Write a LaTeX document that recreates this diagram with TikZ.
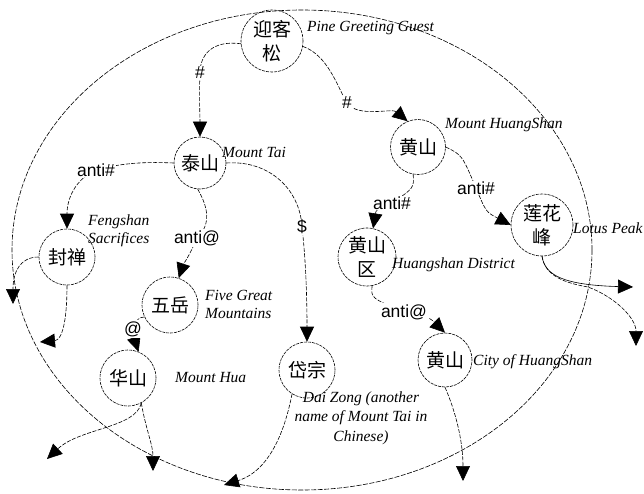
\documentclass[tikz,border=0pt]{standalone}
\usepackage{fontspec}
\setmainfont{Liberation Serif}
\setsansfont{Liberation Sans}
\newfontfamily\cjk{Noto Sans CJK SC}
\usetikzlibrary{arrows.meta}

\begin{document}
\begin{tikzpicture}[x=1pt,y=-1pt,
  mt/.style={circle,draw,line width=0.6pt,dash pattern=on 3pt off 1pt,inner sep=0pt,
    minimum size=#1,align=center,font=\cjk\fontsize{19}{24}\selectfont},
  en/.style={anchor=west,align=left,inner sep=0pt,font=\itshape\fontsize{15.5}{18}\selectfont},
  lab/.style={fill=white,inner sep=1pt,font=\sffamily\fontsize{17.5}{20}\selectfont},
  link/.style={draw,line width=0.6pt,dash pattern=on 4pt off 1.5pt,-{Triangle[length=15pt,width=14pt]}}]
  \useasboundingbox (0,0) rectangle (644,494);
  % outer ring
  \draw[line width=0.6pt,dash pattern=on 5pt off 1.5pt] (302,250) ellipse [x radius=290,y radius=240];

  % mountains
  \node[mt=62] (pine) at (272,41) {迎客\\松};
  \node[mt=52] (tai) at (200,163) {泰山};
  \node[mt=55] (huang) at (418,147) {黄山};
  \node[mt=62] (lotus) at (542,225) {莲花\\峰};
  \node[mt=56] (feng) at (67,257) {封禅};
  \node[mt=56] (wuyue) at (170,305) {五岳};
  \node[mt=56] (hua) at (128,378) {华山};
  \node[mt=56] (dai) at (307,370) {岱宗};
  \node[mt=58] (dist) at (367,257) {黄山\\区};
  \node[mt=54] (city) at (445,360) {黄山};

  % english names
  \node[en] (pineN) at (307,28) {Pine Greeting Guest};
  \node[en] (taiN) at (222,152) {Mount Tai};
  \node[en] (huangN) at (445,125) {Mount HuangShan};
  \node[en] (lotusN) at (573,228) {Lotus Peak};
  \node[en] (fengN) at (88,231) {Fengshan\\Sacrifices};
  \node[en] (wuyueN) at (205,304) {Five Great\\Mountains};
  \node[en] (huaN) at (175,378) {Mount Hua};
  \node[en] (distN) at (392,265) {Huangshan District};
  \node[en] (cityN) at (473,362) {City of HuangShan};
  \node[en,anchor=center,align=center,font=\itshape\fontsize{15.5}{19.5}\selectfont] (daiN) at (361,418) {Dai Zong (another\\name of Mount Tai in\\Chinese)};

  % loose ends
  \coordinate (fengW) at (13,304);
  \coordinate (fengS) at (40,342);
  \coordinate (huaS) at (153,471);
  \coordinate (huaW) at (47,459);
  \coordinate (daiS) at (224,485);
  \coordinate (lotusE) at (633,287);
  \coordinate (lotusS) at (636,346);
  \coordinate (cityS) at (463,481);

  % links
  \draw[link] (pine.185) .. controls (212,40) and (200,55) .. (200,73) node[lab] {\#}
    .. controls (199,95) and (200,115) .. (tai.north);
  \draw[link] (pine.-10) .. controls (328,55) and (338,88) .. (347,103) node[lab] {\#}
    .. controls (358,118) and (392,108) .. (huang.112);
  \draw[link] (tai.west) .. controls (150,162) and (125,162) .. (96,170) node[lab] {anti\#}
    .. controls (74,180) and (67,200) .. (feng.north);
  \draw[link] (tai.-95) .. controls (205,202) and (214,222) .. (197,238) node[lab] {anti@}
    .. controls (190,255) and (183,265) .. (wuyue.72);
  \draw[link] (tai.east) .. controls (270,160) and (300,190) .. (302,227) node[lab] {\$}
    .. controls (306,262) and (307,300) .. (dai.north);
  \draw[link] (feng.west) .. controls (20,257) and (13,272) .. (fengW);
  \draw[link] (feng.south) .. controls (67,322) and (62,340) .. (fengS);
  \draw[link] (wuyue.205) .. controls (138,318) .. (133,329) node[lab] {@}
    .. controls (134,338) .. (hua.68);
  \draw[link] (hua.-62) .. controls (146,430) and (153,445) .. (huaS);
  \draw[link] (hua.-62) .. controls (136,428) and (80,428) .. (huaW);
  \draw[link] (dai.238) .. controls (286,425) and (272,470) .. (daiS);
  \draw[link] (huang.-100) .. controls (414,188) .. (392,203) node[lab] {anti\#}
    .. controls (376,210) .. (dist.78);
  \draw[link] (huang.east) .. controls (462,155) .. (476,188) node[lab] {anti\#}
    .. controls (486,212) .. (lotus.west);
  \draw[link,solid] (lotus.south) .. controls (545,276) and (565,285) .. (lotusE);
  \draw[link] (lotus.south) .. controls (545,276) and (565,283) .. (588,287)
    .. controls (615,297) and (636,318) .. (lotusS);
  \draw[link] (dist.-80) .. controls (371,298) .. (404,312) node[lab] {anti@}
    .. controls (430,318) .. (city.north);
  \draw[link] (city.south) .. controls (455,410) and (463,440) .. (cityS);
\end{tikzpicture}
\end{document}
